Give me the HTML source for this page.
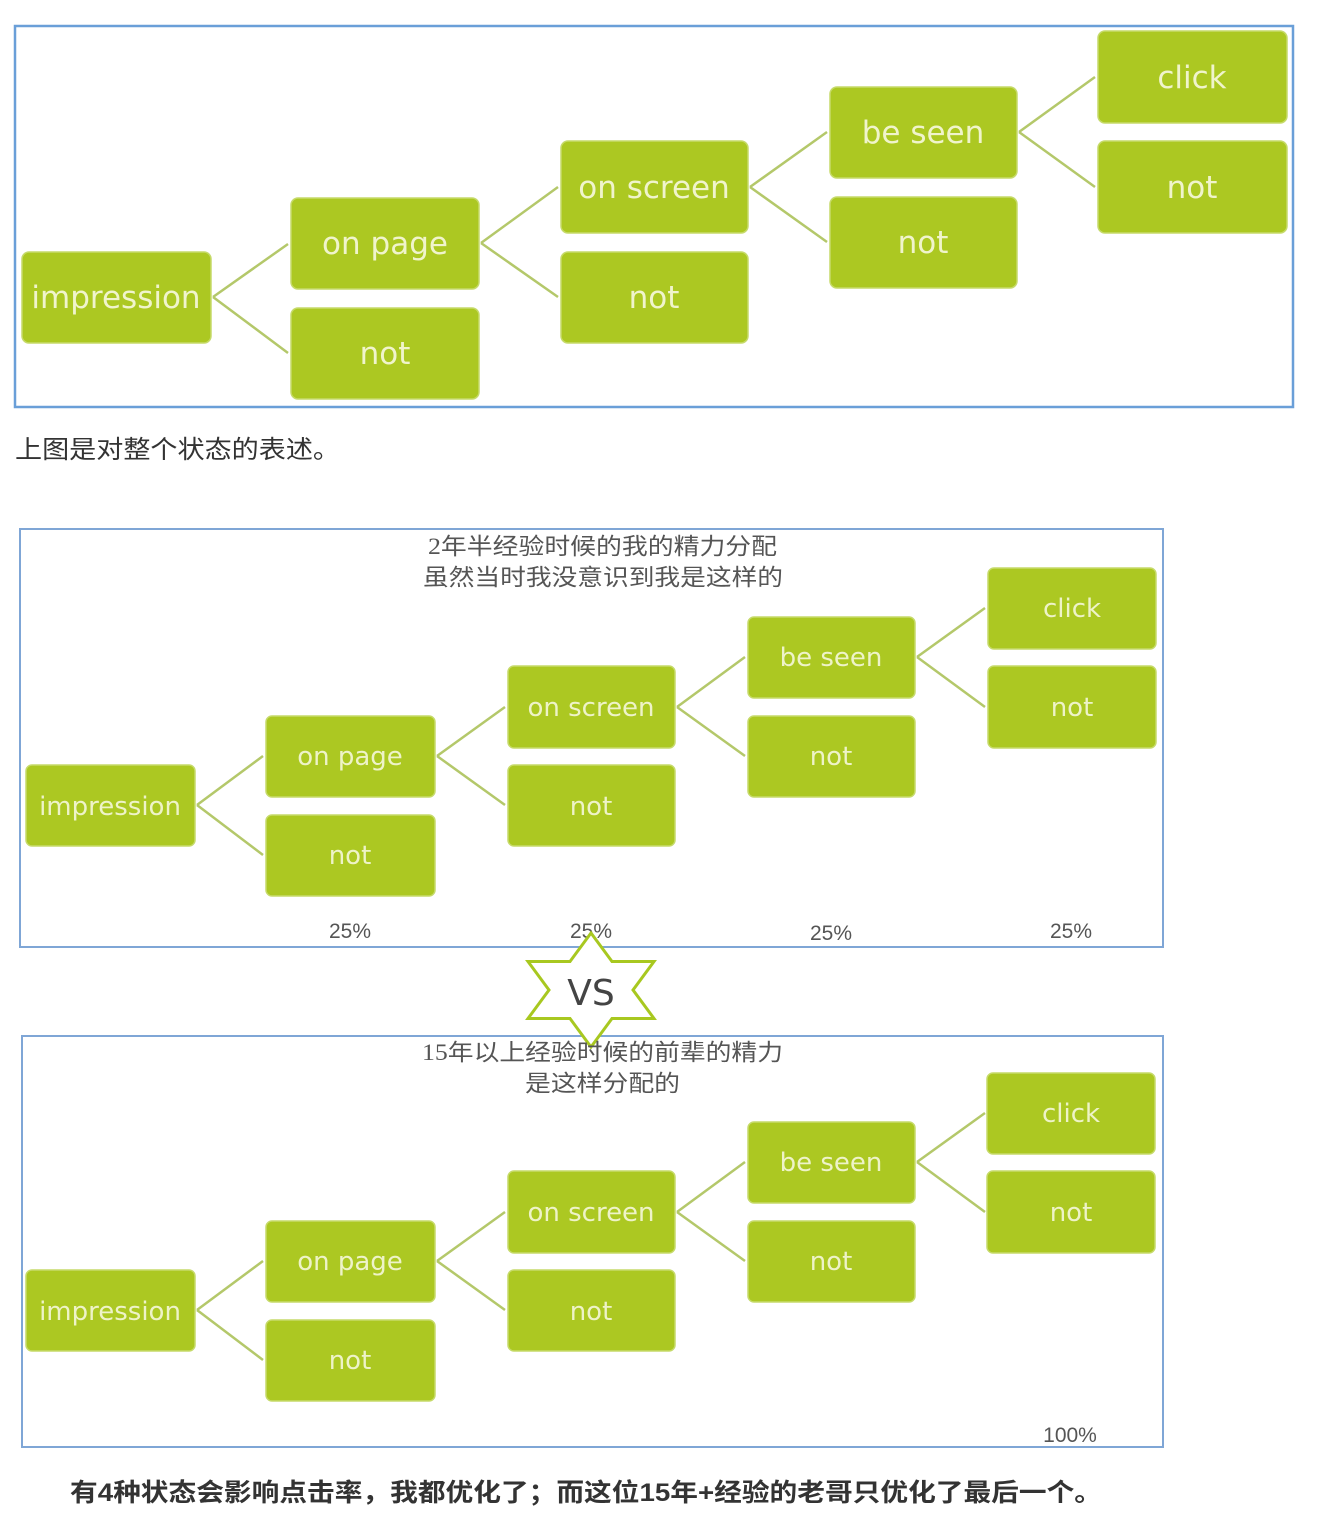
<!DOCTYPE html>
<html><head><meta charset="utf-8"><style>
body{margin:0;background:#fff;}
svg{display:block;}
.b{fill:#acc822;stroke:#c6da6a;stroke-width:1.5;}
.l{stroke:#b4c86a;stroke-width:2.5;fill:none;}
.t1{font-family:"DejaVu Sans","Liberation Sans",sans-serif;fill:#f0f4cc;font-size:31px;text-anchor:middle;}
.t2{font-family:"DejaVu Sans","Liberation Sans",sans-serif;fill:#eef3c8;font-size:26px;text-anchor:middle;}
.cn{font-family:"Liberation Sans","Noto Sans CJK SC",sans-serif;}
.ti{font-family:"Liberation Serif","Noto Sans CJK SC",sans-serif;font-size:23px;fill:#555;}
.p{font-family:"Liberation Sans",sans-serif;font-size:21px;fill:#555;text-anchor:middle;}
</style></head><body>
<svg width="1322" height="1518" viewBox="0 0 1322 1518" xmlns="http://www.w3.org/2000/svg">
<!-- Diagram 1 -->
<rect x="15" y="26" width="1278" height="381" fill="#fff" stroke="#6a9fd8" stroke-width="2.5"/>
<path class="l" d="M213 297L288 244M213 297L288 353M481 243L558 187M481 243L558 297M750 187L827 132M750 187L827 242M1019 132L1095 77M1019 132L1095 187"/>
<rect class="b" x="22" y="252" width="189" height="91" rx="7"/>
<rect class="b" x="291" y="198" width="188" height="91" rx="7"/>
<rect class="b" x="291" y="308" width="188" height="91" rx="7"/>
<rect class="b" x="561" y="141" width="187" height="92" rx="7"/>
<rect class="b" x="561" y="252" width="187" height="91" rx="7"/>
<rect class="b" x="830" y="87" width="187" height="91" rx="7"/>
<rect class="b" x="830" y="197" width="187" height="91" rx="7"/>
<rect class="b" x="1098" y="31" width="189" height="92" rx="7"/>
<rect class="b" x="1098" y="141" width="189" height="92" rx="7"/>
<text class="t1" x="116" y="308">impression</text>
<text class="t1" x="385" y="254">on page</text>
<text class="t1" x="385" y="364">not</text>
<text class="t1" x="654" y="198">on screen</text>
<text class="t1" x="654" y="308">not</text>
<text class="t1" x="923" y="143">be seen</text>
<text class="t1" x="923" y="253">not</text>
<text class="t1" x="1192" y="88">click</text>
<text class="t1" x="1192" y="198">not</text>
<text class="cn" x="15" y="458" font-size="25" fill="#333" textLength="325" lengthAdjust="spacingAndGlyphs">上图是对整个状态的表述。</text>

<!-- Diagram 2 -->
<rect x="20" y="529" width="1143" height="418" fill="#fff" stroke="#7fa6d6" stroke-width="2"/>
<text class="ti" x="428" y="554" textLength="349" lengthAdjust="spacingAndGlyphs">2年半经验时候的我的精力分配</text>
<text class="ti" x="423" y="585" textLength="360" lengthAdjust="spacingAndGlyphs">虽然当时我没意识到我是这样的</text>
<path class="l" d="M197 805L263 756M197 805L263 855M437 756L505 707M437 756L505 805M677 707L745 657M677 707L745 756M917 657L985 608M917 657L985 707"/>
<rect class="b" x="26" y="765" width="169" height="81" rx="6"/>
<rect class="b" x="266" y="716" width="169" height="81" rx="6"/>
<rect class="b" x="266" y="815" width="169" height="81" rx="6"/>
<rect class="b" x="508" y="666" width="167" height="82" rx="6"/>
<rect class="b" x="508" y="765" width="167" height="81" rx="6"/>
<rect class="b" x="748" y="617" width="167" height="81" rx="6"/>
<rect class="b" x="748" y="716" width="167" height="81" rx="6"/>
<rect class="b" x="988" y="568" width="168" height="81" rx="6"/>
<rect class="b" x="988" y="666" width="168" height="82" rx="6"/>
<text class="t2" x="110" y="815">impression</text>
<text class="t2" x="350" y="765">on page</text>
<text class="t2" x="350" y="864">not</text>
<text class="t2" x="591" y="716">on screen</text>
<text class="t2" x="591" y="815">not</text>
<text class="t2" x="831" y="666">be seen</text>
<text class="t2" x="831" y="765">not</text>
<text class="t2" x="1072" y="617">click</text>
<text class="t2" x="1072" y="716">not</text>
<text class="p" x="350" y="938">25%</text>
<text class="p" x="591" y="938">25%</text>
<text class="p" x="831" y="940">25%</text>
<text class="p" x="1071" y="938">25%</text>

<!-- Diagram 3 -->
<rect x="22" y="1036" width="1141" height="411" fill="#fff" stroke="#7fa6d6" stroke-width="2"/>
<g transform="translate(0,505)">
<path class="l" d="M197 805L263 756M197 805L263 855M437 756L505 707M437 756L505 805M677 707L745 657M677 707L745 756M917 657L985 608M917 657L985 707"/>
<rect class="b" x="26" y="765" width="169" height="81" rx="6"/>
<rect class="b" x="266" y="716" width="169" height="81" rx="6"/>
<rect class="b" x="266" y="815" width="169" height="81" rx="6"/>
<rect class="b" x="508" y="666" width="167" height="82" rx="6"/>
<rect class="b" x="508" y="765" width="167" height="81" rx="6"/>
<rect class="b" x="748" y="617" width="167" height="81" rx="6"/>
<rect class="b" x="748" y="716" width="167" height="81" rx="6"/>
<rect class="b" x="987" y="568" width="168" height="81" rx="6"/>
<rect class="b" x="987" y="666" width="168" height="82" rx="6"/>
<text class="t2" x="110" y="815">impression</text>
<text class="t2" x="350" y="765">on page</text>
<text class="t2" x="350" y="864">not</text>
<text class="t2" x="591" y="716">on screen</text>
<text class="t2" x="591" y="815">not</text>
<text class="t2" x="831" y="666">be seen</text>
<text class="t2" x="831" y="765">not</text>
<text class="t2" x="1071" y="617">click</text>
<text class="t2" x="1071" y="716">not</text>
</g>
<text class="p" x="1070" y="1442">100%</text>

<!-- VS star -->
<polygon points="591,933 612,961.5 654,961.5 633,990 654,1018.5 612,1018.5 591,1047 570,1018.5 528,1018.5 549,990 528,961.5 570,961.5" fill="#fff" stroke="#a8c820" stroke-width="3"/>
<text x="591" y="1005" font-family="DejaVu Sans,Liberation Sans,sans-serif" font-size="36" fill="#444" text-anchor="middle">VS</text>
<text class="ti" x="422" y="1060" textLength="361" lengthAdjust="spacingAndGlyphs">15年以上经验时候的前辈的精力</text>
<text class="ti" x="525" y="1091" textLength="155" lengthAdjust="spacingAndGlyphs">是这样分配的</text>

<text class="cn" x="70" y="1501" font-size="25" font-weight="bold" fill="#333" textLength="1032" lengthAdjust="spacingAndGlyphs">有4种状态会影响点击率，我都优化了；而这位15年+经验的老哥只优化了最后一个。</text>
</svg>
</body></html>
